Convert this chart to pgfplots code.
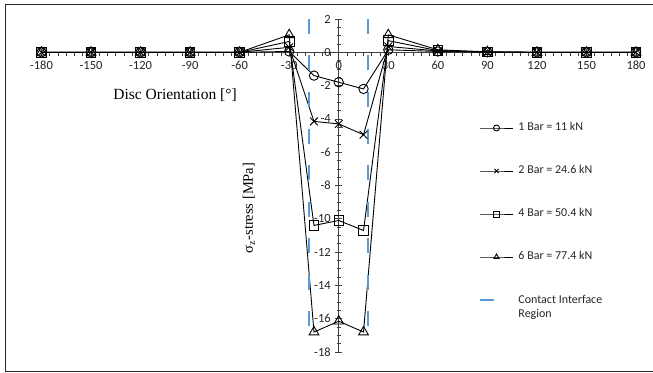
\documentclass[border=0pt]{standalone}
\usepackage{pgfplots}
\pgfplotsset{compat=1.18}
\usepackage{fontspec}
\setmainfont{Carlito}
\newfontfamily\timesf{Liberation Serif}
\definecolor{xlblue}{RGB}{91,155,213}
\newcommand\tickfont{\fontsize{12.5bp}{14bp}\selectfont}
\newcommand\legfont{\fontsize{12bp}{14bp}\selectfont}
\pgfplotsset{
  markleg/.style={legend image code/.code={\draw[mark repeat=2,mark phase=2,##1, mark size=3bp] plot coordinates {(0bp,0bp) (16.5bp,0bp) (33bp,0bp)};}},
  contactleg/.style={legend image code/.code={\draw[##1, solid] (0bp,0bp) -- (14bp,0bp);}},
}
\begin{document}
\begin{tikzpicture}[x=1bp,y=1bp]
\path[use as bounding box] (0,0) rectangle (653,372);
\draw[line width=1bp, black!85] (653,367) -- (5.5,367) -- (5.5,1) -- (653,1);
\begin{axis}[
  at={(41.5bp,20bp)}, anchor=south west,
  scale only axis, width=594.5bp, height=333bp,
  xmin=-180, xmax=180, ymin=-18, ymax=2,
  axis lines=middle, axis line style={-, black!75, line width=0.8bp},
  clip=false,
  xtick={-180,-150,...,180}, ytick={-18,-16,...,2},
  minor x tick num=5, minor y tick num=3,
  tick align=center, major tick length=7bp, minor tick length=4bp,
  tick style={black!75, line width=0.7bp},
  minor x tick style={yshift=-2bp},
  hide obscured x ticks=false, hide obscured y ticks=false,
  /pgf/number format/assume math mode=true,
  tick label style={font=\tickfont, text=black!85},
  x tick label style={yshift=-2bp},
  y tick label style={xshift=-1bp},
  xlabel={\timesf Disc Orientation [°]},
  xlabel style={at={(axis description cs:0.2246,0.7718)}, anchor=center, font=\fontsize{15.5bp}{18bp}\selectfont},
  ylabel={\timesf σ\textsubscript{z}-stress [MPa]},
  ylabel style={at={(axis description cs:0.349,0.4324)}, anchor=center, rotate=90, font=\fontsize{14.5bp}{17bp}\selectfont},
  markleg,
  legend style={at={(axis description cs:0.7359,0.6907)}, anchor=north west, draw=none, fill=none,
    inner sep=0pt, outer sep=0pt, row sep=31bp, column sep=4bp,
    nodes={font=\legfont, text=black!85, inner sep=1bp, text height=8bp, text depth=2bp}},
  legend cell align=left,
]
\addplot[black, line width=0.9bp, mark=o, mark size=4.7bp, mark options={fill=white, solid}] coordinates {
(-180,0) (-150,0) (-120,0) (-90,0) (-60,0) (-30,0.05) (-15,-1.4) (0,-1.8) (15,-2.2) (30,0.15) (60,0.05) (90,0) (120,0) (150,0) (180,0)};
\addlegendentry{\legfont 1 Bar = 11 kN}
\addplot[black, line width=0.9bp, mark=x, mark size=5.5bp, mark options={solid}] coordinates {
(-180,0) (-150,0) (-120,0) (-90,0) (-60,0) (-30,0.3) (-15,-4.15) (0,-4.3) (15,-4.95) (30,0.35) (60,0.08) (90,0.02) (120,0) (150,0) (180,0)};
\addlegendentry{\legfont 2 Bar = 24.6 kN}
\addplot[black, line width=0.9bp, mark=square, mark size=4.8bp, mark options={fill=white, solid}] coordinates {
(-180,0) (-150,0) (-120,0) (-90,0) (-60,0) (-30,0.65) (-15,-10.4) (0,-10.1) (15,-10.7) (30,0.7) (60,0.1) (90,0.02) (120,0) (150,0) (180,0)};
\addlegendentry{\legfont 4 Bar = 50.4 kN}
\addplot[black, line width=0.9bp, mark=triangle, mark size=5.6bp, mark options={fill=white, solid}] coordinates {
(-180,0) (-150,0) (-120,0) (-90,0) (-60,0) (-30,1.05) (-15,-16.8) (0,-16.15) (15,-16.8) (30,1.05) (60,0.15) (90,0.03) (120,0) (150,0) (180,0)};
\addlegendentry{\legfont 6 Bar = 77.4 kN}
\addplot[xlblue, line width=2bp, dash pattern=on 15bp off 21.5bp, contactleg] coordinates {(-18,2) (-18,-17)};
\addlegendentry{\legfont\smash{\rlap{\raisebox{-14.5bp}{Region}}}Contact Interface}
\addplot[xlblue, line width=2bp, dash pattern=on 15bp off 21.5bp, forget plot] coordinates {(18,2) (18,-17)};
\end{axis}
\end{tikzpicture}
\end{document}
